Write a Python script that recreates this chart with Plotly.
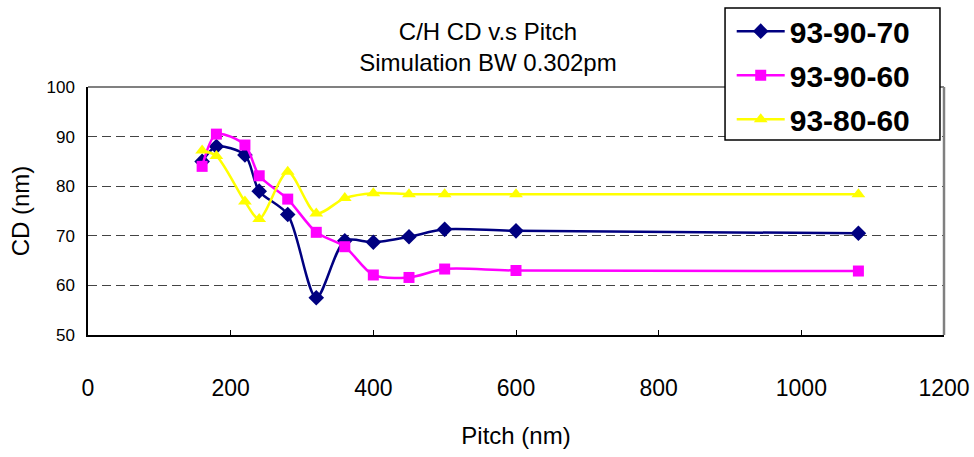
import plotly.graph_objects as go

# ---- data ----
pitch = [160, 180, 220, 240, 280, 320, 360, 400, 450, 500, 600, 1080]
cd_93_90_70 = [85.0, 88.0, 86.3, 79.0, 74.3, 57.5, 69.0, 68.7, 69.8, 71.3, 71.0, 70.5]
cd_93_90_60 = [84.0, 90.5, 88.3, 82.1, 77.4, 70.7, 67.8, 62.1, 61.6, 63.3, 63.0, 62.9]
cd_93_80_60 = [87.2, 86.1, 76.9, 73.4, 82.9, 74.5, 77.6, 78.6, 78.4, 78.4, 78.4, 78.4]
series_names = ["93-90-70", "93-90-60", "93-80-60"]
x_ticks = [0, 200, 400, 600, 800, 1000, 1200]
y_ticks = [50, 60, 70, 80, 90, 100]

FONT = "Liberation Sans, Arial, sans-serif"

styles = [
    dict(color="#000080", symbol="diamond", size=12),
    dict(color="#FF00FF", symbol="square", size=11),
    dict(color="#FFFF00", symbol="triangle-up", size=12),
]
series = [cd_93_90_70, cd_93_90_60, cd_93_80_60]

fig = go.Figure()
for name, vals, st in zip(series_names, series, styles):
    fig.add_trace(go.Scatter(
        x=pitch, y=vals, name=name, mode="lines+markers",
        legendgroup=name,
        line=dict(color=st["color"], width=2.5, shape="spline", smoothing=0.8),
        marker=dict(color=st["color"], symbol=st["symbol"], size=st["size"],
                    line=dict(width=0)),
    ))

fig.update_layout(
    width=974, height=457,
    margin=dict(l=88, r=30, t=87, b=122, autoexpand=False),
    paper_bgcolor="white", plot_bgcolor="white",
    font=dict(family=FONT, color="black"),
    title=dict(
        text="C/H CD v.s Pitch<br>Simulation BW 0.302pm",
        font=dict(size=24, family=FONT, color="black"),
        x=0.501, xanchor="center", xref="container",
        y=0.912, yanchor="top", yref="container",
    ),
    showlegend=True,
    legend=dict(
        x=0.752, xanchor="left", y=1.33, yanchor="top",
        bgcolor="rgba(0,0,0,0)", borderwidth=0,
        font=dict(size=30, family=FONT, color="black", weight="bold"),
        itemwidth=48, tracegroupgap=2,
    ),
    xaxis=dict(
        range=[0, 1200], tickvals=x_ticks, ticks="inside", ticklen=5,
        tickcolor="black", tickwidth=1, automargin=False,
        showline=True, linecolor="black", linewidth=1.5,
        showgrid=False, zeroline=False,
        tickfont=dict(size=23, family=FONT, color="black"),
        ticklabelstandoff=32,
        title=dict(text="Pitch (nm)", font=dict(size=24, family=FONT, color="black"),
                   standoff=27),
    ),
    yaxis=dict(
        range=[50, 100], tickvals=y_ticks, ticks="", automargin=False,
        showline=True, linecolor="black", linewidth=1.5,
        showgrid=True, gridcolor="#444444", gridwidth=1, griddash="9px,5px",
        zeroline=False,
        tickfont=dict(size=17, family=FONT, color="black"),
        ticklabelstandoff=8,
        title=dict(text="CD (nm)", font=dict(size=24, family=FONT, color="black"),
                   standoff=10),
    ),
    shapes=[
        dict(type="line", xref="paper", yref="paper", x0=0, x1=1, y0=1, y1=1,
             line=dict(color="#808080", width=2)),
        dict(type="line", xref="paper", yref="paper", x0=1, x1=1, y0=0, y1=1,
             line=dict(color="#808080", width=2.5)),
        dict(type="rect", xref="paper", yref="paper",
             x0=0.7442, x1=0.9953, y0=0.786, y1=1.3185,
             fillcolor="white", line=dict(color="black", width=1.5), layer="above"),
    ],
)

fig.write_html("out.html")
